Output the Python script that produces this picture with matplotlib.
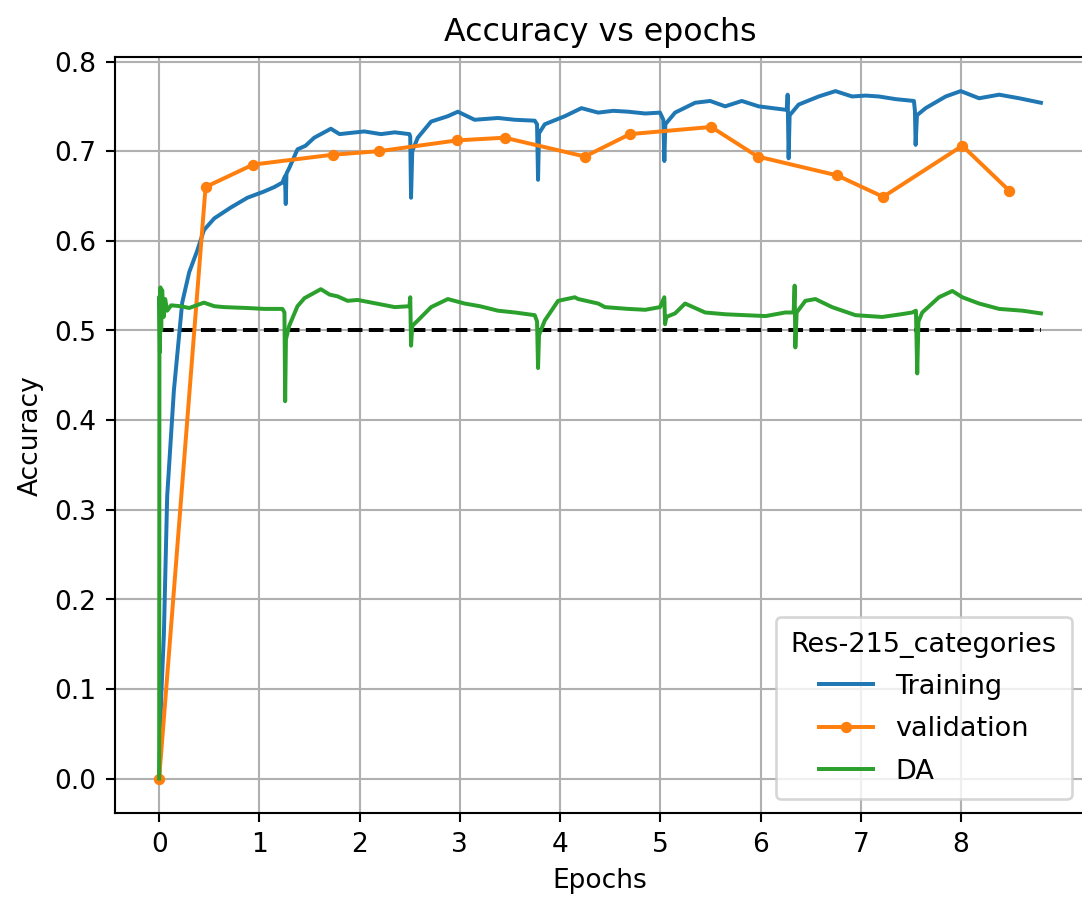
import matplotlib
matplotlib.use('Agg')
import matplotlib.pyplot as plt

# values (epoch, accuracy)
training = [(0.0, 0.0), (0.02, 0.09), (0.047, 0.16), (0.08, 0.315), (0.147, 0.433),
            (0.23, 0.531), (0.30, 0.565), (0.38, 0.589), (0.447, 0.612), (0.55, 0.625),
            (0.713, 0.637), (0.88, 0.648), (1.047, 0.655), (1.15, 0.66), (1.23, 0.665),
            (1.255, 0.672), (1.263, 0.641), (1.27, 0.675), (1.297, 0.681), (1.38, 0.702),
            (1.46, 0.706), (1.547, 0.715), (1.713, 0.725), (1.80, 0.719), (1.88, 0.720),
            (2.047, 0.722), (2.213, 0.719), (2.35, 0.721), (2.497, 0.719), (2.505, 0.716),
            (2.513, 0.648), (2.525, 0.70), (2.58, 0.715), (2.713, 0.733), (2.88, 0.739),
            (2.98, 0.744), (3.147, 0.735), (3.38, 0.737), (3.55, 0.735), (3.747, 0.734),
            (3.77, 0.73), (3.78, 0.668), (3.79, 0.72), (3.847, 0.730), (4.047, 0.739),
            (4.213, 0.748), (4.38, 0.743), (4.53, 0.745), (4.68, 0.744), (4.85, 0.742),
            (4.997, 0.743), (5.03, 0.735), (5.04, 0.689), (5.05, 0.73), (5.147, 0.743),
            (5.347, 0.754), (5.497, 0.756), (5.647, 0.750), (5.813, 0.756), (5.98, 0.750),
            (6.12, 0.748), (6.263, 0.746), (6.27, 0.763), (6.28, 0.692), (6.29, 0.74),
            (6.38, 0.752), (6.58, 0.761), (6.747, 0.767), (6.913, 0.761), (7.05, 0.762),
            (7.18, 0.761), (7.35, 0.758), (7.53, 0.756), (7.54, 0.745), (7.547, 0.707),
            (7.56, 0.74), (7.647, 0.748), (7.847, 0.761), (7.997, 0.767), (8.18, 0.759),
            (8.38, 0.763), (8.58, 0.759), (8.797, 0.754)]

validation = [(0.0, 0.0), (0.463, 0.660), (0.937, 0.685), (1.73, 0.696), (2.197, 0.700),
              (2.97, 0.712), (3.447, 0.715), (4.247, 0.694), (4.697, 0.719), (5.507, 0.727),
              (5.97, 0.694), (6.763, 0.673), (7.223, 0.649), (8.013, 0.706), (8.48, 0.656)]

da = [(0.0, 0.0), (0.003, 0.538), (0.008, 0.476), (0.013, 0.548), (0.02, 0.50),
      (0.03, 0.545), (0.045, 0.515), (0.06, 0.535), (0.08, 0.522), (0.12, 0.528),
      (0.213, 0.527), (0.3, 0.525), (0.447, 0.531), (0.55, 0.527), (0.647, 0.526),
      (0.88, 0.525), (1.05, 0.524), (1.23, 0.524), (1.25, 0.52), (1.257, 0.421),
      (1.265, 0.49), (1.297, 0.505), (1.38, 0.527), (1.45, 0.536), (1.613, 0.546),
      (1.70, 0.54), (1.78, 0.538), (1.88, 0.533), (1.98, 0.534), (2.213, 0.529),
      (2.35, 0.526), (2.497, 0.527), (2.505, 0.537), (2.513, 0.483), (2.525, 0.505),
      (2.58, 0.511), (2.713, 0.526), (2.88, 0.535), (3.047, 0.530), (3.2, 0.527),
      (3.38, 0.522), (3.55, 0.520), (3.747, 0.517), (3.77, 0.51), (3.78, 0.458),
      (3.79, 0.495), (3.847, 0.511), (3.98, 0.533), (4.147, 0.537), (4.18, 0.535),
      (4.38, 0.530), (4.447, 0.526), (4.68, 0.524), (4.85, 0.523), (4.997, 0.526),
      (5.04, 0.537), (5.047, 0.507), (5.06, 0.515), (5.147, 0.519), (5.247, 0.530),
      (5.447, 0.520), (5.65, 0.518), (5.847, 0.517), (6.05, 0.516), (6.247, 0.520),
      (6.33, 0.52), (6.34, 0.55), (6.347, 0.481), (6.36, 0.52), (6.447, 0.533),
      (6.547, 0.535), (6.713, 0.526), (6.947, 0.517), (7.213, 0.515), (7.4, 0.518),
      (7.513, 0.520), (7.55, 0.522), (7.563, 0.452), (7.575, 0.51), (7.613, 0.520),
      (7.78, 0.537), (7.913, 0.544), (8.013, 0.537), (8.18, 0.530), (8.38, 0.524),
      (8.613, 0.522), (8.797, 0.519)]

chance_level = 0.5
chance_span = [0.0, 8.8]
xtick_vals = [0, 1, 2, 3, 4, 5, 6, 7, 8]
ytick_vals = [0.0, 0.1, 0.2, 0.3, 0.4, 0.5, 0.6, 0.7, 0.8]
legend_title = 'Res-215_categories'

dpi = 190
fig = plt.figure(figsize=(1082.3 / dpi, 902.3 / dpi), dpi=dpi)
ax = fig.add_axes([0.1063, 0.0987, 0.8965, 0.8381])

tx, ty = zip(*training)
vx, vy = zip(*validation)
dx, dy = zip(*da)

ax.plot(chance_span, [chance_level, chance_level], 'k--', zorder=1.9)
ax.plot(tx, ty, label='Training')
ax.plot(vx, vy, marker='o', markersize=3.3, label='validation')
ax.plot(dx, dy, label='DA')

ax.set_xticks(xtick_vals)
ax.set_yticks(ytick_vals)
ax.grid(True)
ax.set_title('Accuracy vs epochs')
ax.set_xlabel('Epochs')
ax.set_ylabel('Accuracy')
ax.legend(title=legend_title, loc='lower right', fontsize=10.3,
          title_fontsize=10.3, labelspacing=0.6, borderpad=0.55)

fig.savefig('out.png', dpi=dpi)
